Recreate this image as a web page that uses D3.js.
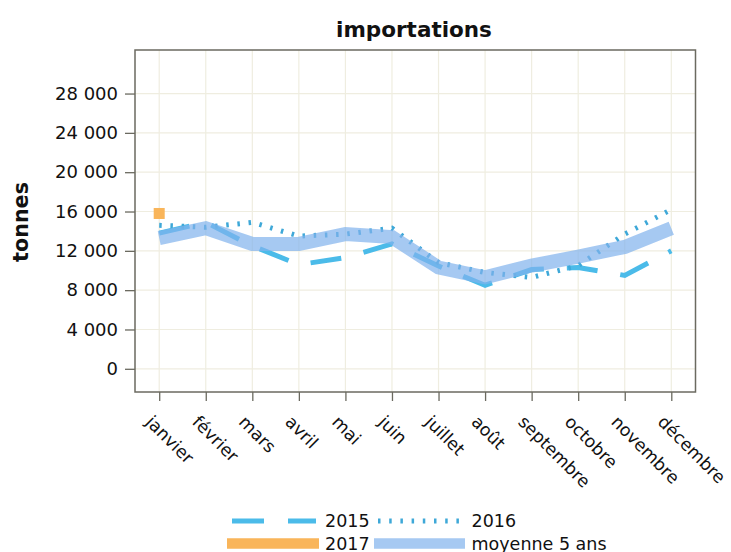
<!DOCTYPE html>
<html><head><meta charset="utf-8">
<script src="https://cdn.jsdelivr.net/npm/d3@7"></script>
<style>body{margin:0;background:#fff}svg{display:block}text{font-family:"DejaVu Sans",sans-serif;fill:#111}</style>
</head><body><svg id="c" width="731" height="552"></svg>
<script>
const months = ["janvier","février","mars","avril","mai","juin","juillet","août","septembre","octobre","novembre","décembre"];
const s2015 = [13800,14900,12500,10600,11300,12700,10450,8500,10100,10300,9500,12000];
const s2016 = [14600,14400,14900,13500,13700,14300,10800,9800,9300,10500,13700,16200];
const s2017 = [15800];
const moyenne = [13300,14300,12700,12700,13700,13400,10300,9300,10500,11400,12400,14300];
const yTicks = [0,4000,8000,12000,16000,20000,24000,28000];
const seriesNames = ["2015","2016","2017","moyenne 5 ans"];

const FONT = "DejaVu Sans";
const svg = d3.select("#c");
const L=135, R=695.5, T=50, B=392;
const x = d3.scalePoint().domain(months).range([L,R]).padding(0.52);
const y = d3.scaleLinear().domain([-2360,32430]).range([B,T]);
const fmt = v => d3.format(",")(v).replace(/,/g," ");

// grid
const g = svg.append("g");
g.selectAll(".gy").data(yTicks).join("line").attr("x1",L).attr("x2",R)
 .attr("y1",d=>y(d)).attr("y2",d=>y(d)).attr("stroke","#efede0").attr("stroke-width",1.2);
g.selectAll(".gx").data(months).join("line").attr("y1",T).attr("y2",B)
 .attr("x1",d=>x(d)).attr("x2",d=>x(d)).attr("stroke","#efede0").attr("stroke-width",1.2);

// axes
const ya = svg.append("g").attr("transform",`translate(${L},0)`)
 .call(d3.axisLeft(y).tickValues(yTicks).tickFormat(fmt).tickSize(10).tickPadding(7));
ya.select(".domain").remove();
ya.selectAll("line").attr("stroke","#6b6a60").attr("stroke-width",1.3);
ya.selectAll("text").attr("font-size",18).attr("fill","#111").attr("font-family",FONT);

const xa = svg.append("g").attr("transform",`translate(0,${B})`)
 .call(d3.axisBottom(x).tickSize(9).tickPadding(0));
xa.select(".domain").remove();
xa.selectAll("line").attr("stroke","#6b6a60").attr("stroke-width",1.3);
xa.selectAll("text").attr("font-size",17.3).attr("fill","#111").attr("font-family",FONT)
 .attr("text-anchor","start").attr("x",0).attr("y",0).attr("dy",0)
 .attr("transform","translate(-15,31) rotate(45)");

svg.append("rect").attr("x",L).attr("y",T).attr("width",R-L).attr("height",B-T)
 .attr("fill","none").attr("stroke","#6b6a60").attr("stroke-width",1.5);

const line = d3.line().x((d,i)=>x(months[i])).y(d=>y(d));
svg.append("clipPath").attr("id","cp").append("rect").attr("x",L).attr("y",T).attr("width",R-L).attr("height",B-T);
const p = svg.append("g").attr("clip-path","url(#cp)");
p.append("path").datum(s2015).attr("d",line).attr("fill","none")
 .attr("stroke","#4bbbe9").attr("stroke-width",5).attr("stroke-dasharray","31,23");
p.append("path").datum(s2016).attr("d",line).attr("fill","none")
 .attr("stroke","#3ea8d8").attr("stroke-width",5).attr("stroke-dasharray","2.5,8.7");
p.selectAll(".p17").data(s2017).join("rect")
 .attr("x",(d,i)=>x(months[i])-5.5).attr("y",d=>y(d)-5.5).attr("width",11).attr("height",11)
 .attr("fill","#f9b55a");
p.append("path").datum(moyenne).attr("d",line).attr("fill","none")
 .attr("stroke","#80b2ec").attr("stroke-opacity",0.7).attr("stroke-width",14).attr("stroke-linejoin","miter");

// titles
svg.append("text").attr("x",414).attr("y",37).attr("text-anchor","middle").attr("font-family",FONT)
 .attr("font-size",21.5).attr("font-weight","bold").text("importations");
svg.append("text").attr("transform","translate(28,222) rotate(-90)").attr("text-anchor","middle").attr("font-family",FONT)
 .attr("font-size",20.7).attr("font-weight","bold").text("tonnes");

// legend
const lg = svg.append("g");
const items = [
 {n:seriesNames[0], x1:232,x2:316,y:521,st:"#4bbbe9",w:5,da:"32,24",tx:325,op:1},
 {n:seriesNames[1], x1:378,x2:460,y:521,st:"#3ea8d8",w:5,da:"2.5,8.7",tx:471.5,op:1},
 {n:seriesNames[2], x1:227,x2:319,y:543.5,st:"#f9b55a",w:10.5,da:null,tx:325,op:1},
 {n:seriesNames[3], x1:374,x2:465,y:543.5,st:"#80b2ec",w:10.5,da:null,tx:471.5,op:0.7}
];
items.forEach(it=>{
 lg.append("line").attr("x1",it.x1).attr("x2",it.x2).attr("y1",it.y).attr("y2",it.y)
  .attr("stroke",it.st).attr("stroke-opacity",it.op).attr("stroke-width",it.w).attr("stroke-dasharray",it.da);
 lg.append("text").attr("x",it.tx).attr("y",it.y).attr("dy","0.36em").attr("font-family",FONT).attr("font-size",17.5).text(it.n);
});
</script></body></html>
